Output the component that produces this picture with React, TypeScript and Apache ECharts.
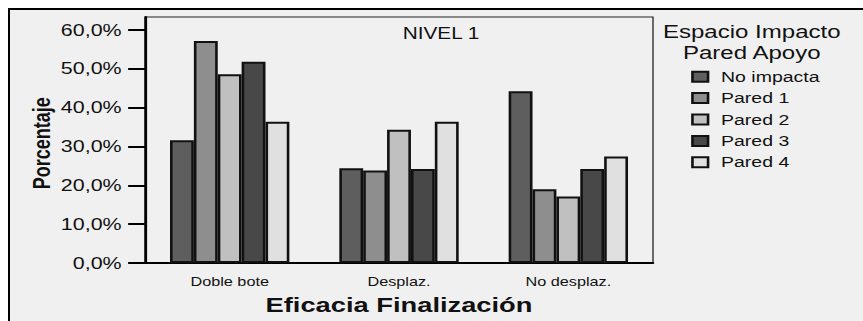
import React, { useEffect, useRef } from "react";
import * as echarts from "echarts";

const categories = ["Doble bote", "Desplaz.", "No desplaz."];
const seriesNames = ["No impacta", "Pared 1", "Pared 2", "Pared 3", "Pared 4"];
const noImpacta = [31.6, 24.4, 44.2];
const pared1 = [57.2, 23.8, 19.0];
const pared2 = [48.6, 34.3, 17.1];
const pared3 = [51.8, 24.2, 24.2];
const pared4 = [36.4, 36.4, 27.4];
const seriesValues = [noImpacta, pared1, pared2, pared3, pared4];
const colors = ["#5e5e5e", "#8e8e8e", "#c0c0c0", "#484848", "#e0e0e0"];
const yTicks = [0, 10, 20, 30, 40, 50, 60];

const SX = 1.3;
const W = 658;
const H = 313;
const FONT = "'Liberation Sans', Arial, Helvetica, sans-serif";

export default function App() {
  const ref = useRef<HTMLDivElement>(null);
  useEffect(() => {
    const chart = echarts.init(ref.current!, null, { renderer: "svg" });
    chart.setOption({
      animation: false,
      textStyle: { fontFamily: FONT },
      grid: {
        left: 105.4,
        right: W - 496.15,
        top: 9,
        bottom: 58,
        show: true,
        borderColor: "#222",
        borderWidth: 1,
        backgroundColor: "transparent",
        containLabel: false,
      },
      legend: {
        orient: "vertical",
        left: 525.5,
        top: 60.7,
        padding: 0,
        itemWidth: 12,
        itemHeight: 10,
        itemGap: 5.4,
        icon: "rect",
        data: seriesNames,
        textStyle: {
          fontSize: 15,
          fontFamily: FONT,
          color: "#111",
          lineHeight: 16,
          padding: [0, 0, 0, 5],
        },
      },
      xAxis: {
        type: "category",
        data: categories,
        axisLine: { lineStyle: { color: "#000", width: 2 } },
        axisTick: { alignWithLabel: true, length: 7, lineStyle: { color: "#000", width: 2 } },
        axisLabel: { fontSize: 12.5, color: "#111", margin: 12, fontFamily: FONT },
        name: "Eficacia Finalización",
        nameLocation: "middle",
        nameGap: 31,
        nameTextStyle: { fontSize: 21, fontWeight: "bold", color: "#111", fontFamily: FONT },
      },
      yAxis: {
        type: "value",
        min: 0,
        max: 63.35,
        axisLine: { show: true, lineStyle: { color: "#000", width: 2 } },
        axisTick: { show: true, length: 13, lineStyle: { color: "#000", width: 2 }, customValues: yTicks },
        axisLabel: {
          customValues: yTicks,
          formatter: (v: number) => v.toFixed(1).replace(".", ",") + "%",
          fontSize: 16.5,
          margin: 18,
          color: "#111",
          fontFamily: FONT,
        },
        splitLine: { show: false },
      },
      graphic: [
        {
          type: "text",
          x: 333.1,
          y: 25,
          style: { text: "NIVEL 1", fontSize: 16, fontFamily: FONT, fill: "#111", align: "center", verticalAlign: "middle" },
        },
        {
          type: "text",
          x: 572.1,
          y: 34.5,
          style: {
            text: "Espacio Impacto\nPared Apoyo",
            fontSize: 18.5,
            lineHeight: 21,
            fontFamily: FONT,
            fill: "#111",
            align: "center",
            verticalAlign: "middle",
          },
        },
        {
          type: "text",
          x: 25.9,
          y: 135.3,
          rotation: Math.PI / 2,
          style: {
            text: "Porcentaje",
            fontSize: 18,
            fontWeight: "bold",
            fontFamily: FONT,
            fill: "#111",
            align: "center",
            verticalAlign: "middle",
          },
        },
      ],
      series: seriesValues.map((vals, i) => ({
        type: "bar",
        name: seriesNames[i],
        data: vals,
        barGap: "0%",
        barCategoryGap: "29.5%",
        itemStyle: { color: colors[i], borderColor: "#111", borderWidth: 2 },
      })),
    });
    return () => chart.dispose();
  }, []);

  return (
    <div
      style={{
        position: "fixed",
        left: 8,
        top: 8,
        right: 0,
        bottom: 0,
        background: "#f0f0f0",
        overflow: "hidden",
        borderLeft: "2px solid #000",
        borderTop: "2px solid #000",
        boxSizing: "border-box",
      }}
    >
      <div
        ref={ref}
        style={{
          position: "absolute",
          left: -2,
          top: -2,
          width: W,
          height: H,
          transform: `scaleX(${SX})`,
          transformOrigin: "0 0",
        }}
      />
    </div>
  );
}
